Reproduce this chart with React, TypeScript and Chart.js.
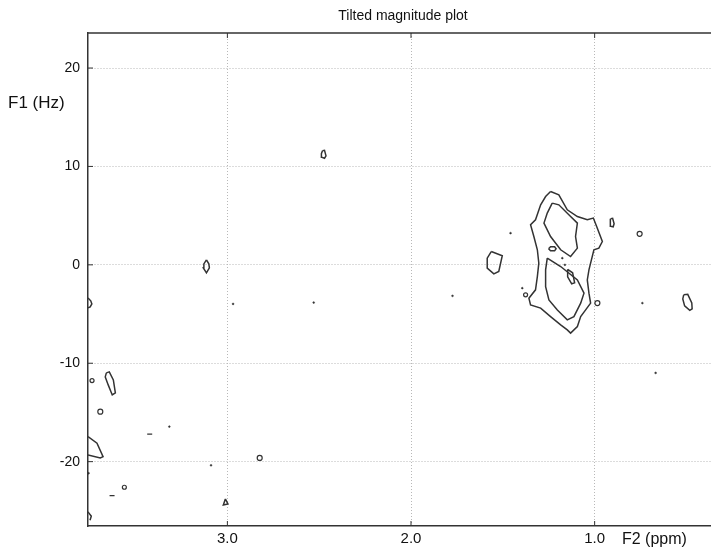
import React, { useEffect, useRef } from "react";
import { Chart, registerables } from "chart.js";
Chart.register(...registerables);

type P = [number, number];

const chartTitle = "Tilted magnitude plot";
const xAxisLabel = "F2 (ppm)";
const yAxisLabel = "F1 (Hz)";
const xTicks = [3.0, 2.0, 1.0];
const yTicks = [20, 10, 0, -10, -20];
const xMin = 0.362;
const xMax = 3.759;
const yMin = -26.54;
const yMax = 23.56;

// closed contour lines (F2 ppm, F1 Hz)
const outerContour: P[] = [
  [1.24, 7.45], [1.195, 7.12], [1.149, 5.59], [1.094, 4.91], [1.04, 4.58], [1.007, 4.75],
  [0.989, 3.89], [0.958, 2.37], [0.977, 1.7], [1.004, 1.53], [1.031, -0.51], [1.04, -1.53],
  [1.031, -2.88], [1.022, -3.89], [1.049, -4.58], [1.076, -5.26], [1.094, -6.27], [1.131, -6.94],
  [1.149, -6.61], [1.185, -6.1], [1.24, -5.26], [1.294, -4.4], [1.349, -4.07], [1.358, -3.39],
  [1.322, -2.54], [1.312, -1.19], [1.304, 0.17], [1.312, 1.53], [1.331, 2.88], [1.349, 4.07],
  [1.322, 4.58], [1.294, 6.1], [1.267, 6.94],
];
const innerUpper: P[] = [
  [1.231, 6.27], [1.195, 6.1], [1.131, 4.91], [1.094, 4.24], [1.104, 2.88], [1.094, 1.7],
  [1.131, 0.84], [1.185, 1.53], [1.24, 2.88], [1.276, 4.24], [1.258, 5.26],
];
const innerLower: P[] = [
  [1.258, 0.68], [1.185, -0.17], [1.094, -1.53], [1.058, -2.88], [1.076, -3.89], [1.113, -5.26],
  [1.149, -5.59], [1.203, -4.58], [1.249, -3.56], [1.267, -2.21], [1.267, -0.51],
];
const innerEllipse: P[] = [[1.251, 1.63], [1.24, 1.83], [1.218, 1.83], [1.21, 1.63], [1.218, 1.42], [1.24, 1.42]];
const innerSlit: P[] = [[1.147, -0.46], [1.12, -0.81], [1.109, -1.83], [1.125, -1.93], [1.147, -1.22]];
const sideBlob: P[] = [[1.563, 1.35], [1.503, 0.92], [1.522, -0.68], [1.549, -0.92], [1.585, -0.34], [1.585, 0.68]];
const rightDrop: P[] = [[0.913, 4.68], [0.902, 4.73], [0.894, 4.17], [0.899, 3.86], [0.913, 3.91], [0.916, 4.37]];
const rightOval: P[] = [[0.515, -3.05], [0.493, -3.0], [0.471, -3.86], [0.469, -4.47], [0.482, -4.63], [0.51, -4.17], [0.52, -3.46]];
const topDrop: P[] = [[2.482, 11.59], [2.471, 11.64], [2.463, 11.08], [2.471, 10.83], [2.485, 10.93], [2.488, 11.29]];
const midDiamond: P[] = [[3.114, 0.51], [3.101, 0.1], [3.098, -0.31], [3.114, -0.81], [3.131, -0.31], [3.128, 0.1]];
const lowOval: P[] = [[3.659, -10.98], [3.643, -10.88], [3.621, -11.69], [3.61, -13.01], [3.627, -13.22], [3.649, -12.2], [3.665, -11.39]];
const lowTriangle: P[] = [[3.011, -23.79], [2.997, -24.3], [3.022, -24.4]];

// open contours cut by the left edge
const edgeUpper: P[] = [[3.759, -3.36], [3.744, -3.66], [3.738, -3.97], [3.747, -4.27], [3.759, -4.37]];
const edgeMiddle: P[] = [[3.759, -17.46], [3.71, -18.13], [3.677, -19.49], [3.692, -19.62], [3.759, -19.32]];
const edgeLower: P[] = [[3.759, -25.1], [3.741, -25.55], [3.748, -25.95]];

// tiny ring contours
const ringPoints: P[] = [
  [0.755, 3.15], [1.376, -3.05], [0.985, -3.89], [3.737, -11.76], [3.692, -14.92], [2.824, -19.62], [3.561, -22.6],
];
const ringRadii = [2.5, 2, 2.5, 2, 2.5, 2.5, 2];
// tiny dot contours
const dotPoints: P[] = [
  [1.458, 3.22], [1.176, 0.68], [1.162, 0.0], [1.394, -2.37], [0.74, -3.89], [1.774, -3.15],
  [0.668, -10.98], [2.969, -3.97], [2.53, -3.83], [3.316, -16.44], [3.756, -21.18], [3.089, -20.37],
];
const dashPoints: P[] = [[3.423, -17.21], [3.628, -23.46]];

const closedContours = [
  outerContour, innerUpper, innerLower, innerEllipse, innerSlit, sideBlob, rightDrop, rightOval,
  topDrop, midDiamond, lowOval, lowTriangle,
];
const openContours = [edgeUpper, edgeMiddle, edgeLower];

const INK = "#333333";
const TEXT = "#111111";
const FONT = "'Liberation Sans', Arial, Helvetica, sans-serif";

const toXY = (pts: P[], close: boolean) => {
  const d = pts.map(([x, y]) => ({ x, y }));
  if (close && pts.length) d.push({ x: pts[0][0], y: pts[0][1] });
  return d;
};

const framePlugin = {
  id: "frame",
  afterDraw(chart: any) {
    const { ctx, chartArea: a, scales } = chart;
    ctx.save();
    ctx.strokeStyle = INK;
    ctx.lineWidth = 1.5;
    ctx.beginPath();
    ctx.moveTo(a.left, a.top);
    ctx.lineTo(chart.width, a.top);
    ctx.stroke();
    ctx.lineWidth = 1;
    ctx.beginPath();
    for (const v of xTicks) {
      const px = scales.x.getPixelForValue(v);
      ctx.moveTo(px, a.bottom);
      ctx.lineTo(px, a.bottom - 5);
      ctx.moveTo(px, a.top);
      ctx.lineTo(px, a.top + 5);
    }
    for (const v of yTicks) {
      const py = scales.y.getPixelForValue(v);
      ctx.moveTo(a.left, py);
      ctx.lineTo(a.left + 5, py);
    }
    ctx.stroke();
    ctx.fillStyle = TEXT;
    ctx.textBaseline = "middle";
    ctx.textAlign = "center";
    ctx.font = `14px ${FONT}`;
    ctx.fillText(chartTitle, 403, 16);
    ctx.textAlign = "left";
    ctx.font = `17px ${FONT}`;
    ctx.fillText(yAxisLabel, 8, 103);
    ctx.font = `16px ${FONT}`;
    ctx.fillText(xAxisLabel, 622, 540);
    ctx.restore();
  },
};

export default function App() {
  const ref = useRef<HTMLCanvasElement>(null);
  useEffect(() => {
    if (!ref.current) return;
    const line = (pts: P[], close: boolean) => ({
      data: toXY(pts, close),
      showLine: true,
      pointRadius: 0,
      borderColor: INK,
      borderWidth: 1.5,
      fill: false,
      tension: 0,
    });
    const chart = new Chart(ref.current, {
      type: "scatter",
      data: {
        datasets: [
          ...closedContours.map((c) => line(c, true)),
          ...openContours.map((c) => line(c, false)),
          {
            data: toXY(ringPoints, false),
            showLine: false,
            pointStyle: "circle",
            pointRadius: ringRadii,
            pointBorderColor: INK,
            pointBackgroundColor: "rgba(0,0,0,0)",
            pointBorderWidth: 1.2,
          },
          {
            data: toXY(dotPoints, false),
            showLine: false,
            pointStyle: "circle",
            pointRadius: 0.9,
            pointBorderColor: INK,
            pointBackgroundColor: INK,
            pointBorderWidth: 0.5,
          },
          {
            data: toXY(dashPoints, false),
            showLine: false,
            pointStyle: "line",
            pointRadius: 2.5,
            pointBorderColor: INK,
            pointBorderWidth: 1.2,
          },
        ] as any,
      },
      options: {
        animation: false,
        responsive: false,
        devicePixelRatio: 1,
        layout: { padding: { top: 33, left: 0, right: 0, bottom: 0 } },
        plugins: { legend: { display: false }, tooltip: { enabled: false }, title: { display: false } },
        scales: {
          x: {
            type: "linear",
            position: "bottom",
            reverse: true,
            min: xMin,
            max: xMax,
            afterFit: (s: any) => {
              s.height = 26;
            },
            afterBuildTicks: (s: any) => {
              s.ticks = xTicks.map((v) => ({ value: v }));
            },
            ticks: {
              autoSkip: false,
              maxRotation: 0,
              padding: 4,
              color: TEXT,
              font: { family: FONT, size: 15 },
              callback: (v: any) => Number(v).toFixed(1),
            },
            grid: { color: "#b8b8b8", lineWidth: 1, drawTicks: false },
            border: { display: true, color: INK, width: 1.5, dash: [1, 2] },
          },
          y: {
            type: "linear",
            position: "left",
            min: yMin,
            max: yMax,
            afterFit: (s: any) => {
              s.width = 88;
            },
            afterBuildTicks: (s: any) => {
              s.ticks = yTicks.map((v) => ({ value: v }));
            },
            ticks: {
              autoSkip: false,
              padding: 8,
              color: TEXT,
              font: { family: FONT, size: 14 },
              callback: (v: any) => String(v),
            },
            grid: { color: "#b8b8b8", lineWidth: 1, drawTicks: false },
            border: { display: true, color: INK, width: 1.5, dash: [1, 2] },
          },
        },
      },
      plugins: [framePlugin],
    });
    return () => chart.destroy();
  }, []);
  return (
    <div style={{ position: "fixed", left: 0, top: 0, width: 711, height: 552, background: "#fff", overflow: "hidden" }}>
      <canvas ref={ref} width={717} height={552} style={{ display: "block" }} />
    </div>
  );
}
